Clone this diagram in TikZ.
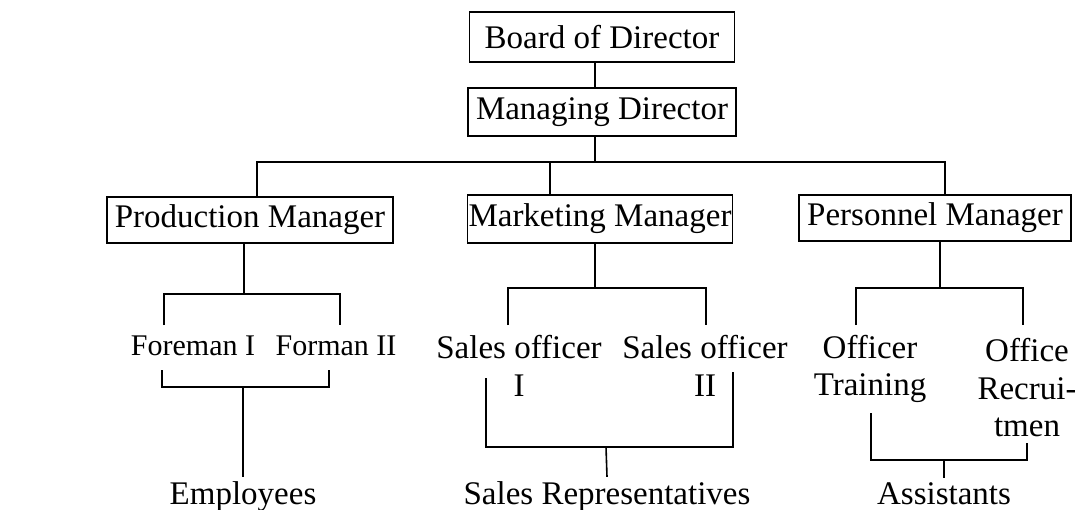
\documentclass[tikz,border=0pt]{standalone}
\usepackage{fontspec}
\setmainfont{Liberation Serif}
\usetikzlibrary{positioning}
\tikzset{
  post/.style={draw, line width=1.5pt, minimum height=46pt, inner xsep=8pt, inner ysep=0pt},
  staff/.style={align=center, inner sep=0pt},
  link/.style={line width=1.6pt},
}
\begin{document}
\begin{tikzpicture}[x=1pt,y=-1pt,font=\fontsize{33}{37.5}\selectfont]
\useasboundingbox (0,0) rectangle (1075,510);
% top posts
\node[post, minimum width=265pt, minimum height=50pt] (bod) at (602,37) {Board of Director};
\node[post, minimum width=265pt, minimum height=48pt] (md) at (602,112) {Managing Director};
% managers
\node[post] (pm) at (250,220) {Production Manager};
\node[post, inner xsep=1pt, minimum height=48pt] (mm) at (600,219) {Marketing Manager};
\node[post] (perm) at (935,218) {Personnel Manager};
% officers
\node[staff, font=\fontsize{30}{36}\selectfont] (f1) at (193,346) {Foreman I};
\node[staff, font=\fontsize{30}{36}\selectfont] (f2) at (336,346) {Forman II};
\node[staff] (so1) at (519,366) {Sales officer\\I};
\node[staff] (so2) at (705,366) {Sales officer\\II};
\node[staff] (ot) at (870,369) {Officer\\Training};
\node[staff] (orc) at (1027,388) {Office\\Recrui-\\tmen};
% bottom row
\node[staff, anchor=base] (emp) at (243,504) {Employees};
\node[staff, anchor=base] (sr) at (607,504) {Sales Representatives};
\node[staff, anchor=base] (asst) at (944,504) {Assistants};

% board to managers
\coordinate (mdj) at (595,162);
\coordinate (bl) at (257,162);
\coordinate (bm) at (550,162);
\coordinate (br) at (945,162);
\draw[link] (bod.south -| mdj) -- (md.north -| mdj);
\draw[link] (md.south -| mdj) -- (mdj);
\draw[link] (pm.north -| bl) |- (mdj) -| (perm.north -| br);
\draw[link] (bm) -- (mm.north -| bm);

% production branch
\coordinate (pmj) at (244,294);
\coordinate (f1top) at (164,325);
\coordinate (f2top) at (340,325);
\coordinate (f1bot) at (162,370);
\coordinate (f2bot) at (329,370);
\coordinate (empj) at (243,387);
\draw[link] (pm.south -| pmj) -- (pmj);
\draw[link] (f1top) |- (pmj) -| (f2top);
\draw[link] (f1bot) |- (empj) -| (f2bot);
\draw[link] (empj) -- ([yshift=4pt]emp.north);

% marketing branch
\coordinate (mmj) at (595,288);
\coordinate (so1top) at (508,325);
\coordinate (so2top) at (706,325);
\coordinate (so1bot) at (486,378);
\coordinate (so2bot) at (733,372);
\coordinate (srj) at (606,447);
\draw[link] (mm.south -| mmj) -- (mmj);
\draw[link] (so1top) |- (mmj) -| (so2top);
\draw[link] (so1bot) |- (srj) -| (so2bot);
\draw[link] (srj) -- ([yshift=4pt]sr.north);

% personnel branch
\coordinate (permj) at (940,288);
\coordinate (ottop) at (856,325);
\coordinate (ortop) at (1023,325);
\coordinate (otbot) at (871,413);
\coordinate (orbot) at (1027,443);
\coordinate (asstj) at (944,460);
\draw[link] (perm.south -| permj) -- (permj);
\draw[link] (ottop) |- (permj) -| (ortop);
\draw[link] (otbot) |- (asstj) -| (orbot);
\draw[link] (asstj) -- ([yshift=4pt]asst.north);
\end{tikzpicture}
\end{document}
